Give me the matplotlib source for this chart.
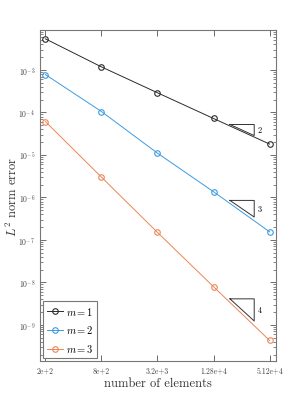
import numpy as np
import matplotlib
matplotlib.use("Agg")
import matplotlib.pyplot as plt
from matplotlib.ticker import FixedLocator, FixedFormatter, LogLocator, NullFormatter

# data
n_elements = [200, 800, 3200, 12800, 51200]
x_labels = ["2e+2", "8e+2", "3.2e+3", "1.28e+4", "5.12e+4"]
err_m1 = [5.4e-3, 1.18e-3, 2.9e-4, 7.2e-5, 1.8e-5]
err_m2 = [7.8e-4, 1.05e-4, 1.1e-5, 1.36e-6, 1.55e-7]
err_m3 = [6.1e-5, 3.0e-6, 1.5e-7, 7.9e-9, 4.3e-10]
series_labels = ["$m=1$", "$m=2$", "$m=3$"]
colors = ["#2b2b2b", "#3d9be0", "#ee8455"]
y_decades = [-9, -8, -7, -6, -5, -4, -3]

# slope triangles: (x left, x right, y top, slope in N, label)
tri_x0 = [19200, 19200, 19200]
tri_x1 = [35000, 35000, 35000]
tri_y0 = [5.2e-5, 8.5e-7, 4.1e-9]
tri_s = [1.0, 1.5, 2.0]
tri_labels = ["2", "3", "4"]

plt.rcParams["font.family"] = "serif"
plt.rcParams["font.serif"] = ["cmr10", "DejaVu Serif"]
plt.rcParams["mathtext.fontset"] = "cm"
plt.rcParams["axes.formatter.use_mathtext"] = True

fig = plt.figure(figsize=(3.05, 4.06), dpi=100)
ax = fig.add_axes([40 / 305, 1 - 362 / 406, 236 / 305, 331 / 406])

for y, c, lab in zip([err_m1, err_m2, err_m3], colors, series_labels):
    ax.plot(n_elements, y, "-o", color=c, lw=0.7, ms=4, mfc="none", mew=0.8, label=lab)

for x0, x1, y0, s, lab in zip(tri_x0, tri_x1, tri_y0, tri_s, tri_labels):
    y1 = y0 * (x0 / x1) ** s
    ax.plot([x0, x1, x1, x0], [y0, y0, y1, y0], color="#333333", lw=0.7)
    ax.text(x1 * 1.08, np.sqrt(y0 * y1), lab, fontsize=6, va="center", ha="left")

ax.set_xscale("log")
ax.set_yscale("log")
ax.set_xlim(175, 60000)
ax.set_ylim(10 ** -9.85, 10 ** -2.06)

ax.xaxis.set_major_locator(FixedLocator(n_elements))
ax.xaxis.set_major_formatter(FixedFormatter(x_labels))
ax.xaxis.set_minor_locator(FixedLocator([]))
ax.yaxis.set_major_locator(FixedLocator([10.0 ** d for d in y_decades]))
ax.yaxis.set_major_formatter(FixedFormatter(["$10^{%d}$" % d for d in y_decades]))
ax.yaxis.set_minor_locator(LogLocator(base=10, subs=np.arange(2, 10), numticks=20))
ax.yaxis.set_minor_formatter(NullFormatter())

ax.tick_params(which="both", direction="in", top=True, right=True, labelsize=5.5,
               colors="#555555", labelcolor="#444444")
ax.tick_params(which="major", length=4, width=0.6)
ax.tick_params(which="minor", length=2, width=0.5)
for sp in ax.spines.values():
    sp.set_color("#777777")
    sp.set_linewidth(0.8)

ax.set_xlabel("number of elements", fontsize=9, color="#333333", labelpad=2)
ax.set_ylabel("$L^2$ norm error", fontsize=9, color="#333333")
ax.yaxis.set_label_coords(-0.085, 0.5)

leg = ax.legend(loc="lower left", fontsize=7.5, handlelength=1.6, handletextpad=0.2,
                borderpad=0.4, labelspacing=0.65, fancybox=False, framealpha=1,
                borderaxespad=0.25)
leg.get_frame().set_edgecolor("#777777")
leg.get_frame().set_linewidth(0.8)

fig.savefig("out.png", dpi=100)
